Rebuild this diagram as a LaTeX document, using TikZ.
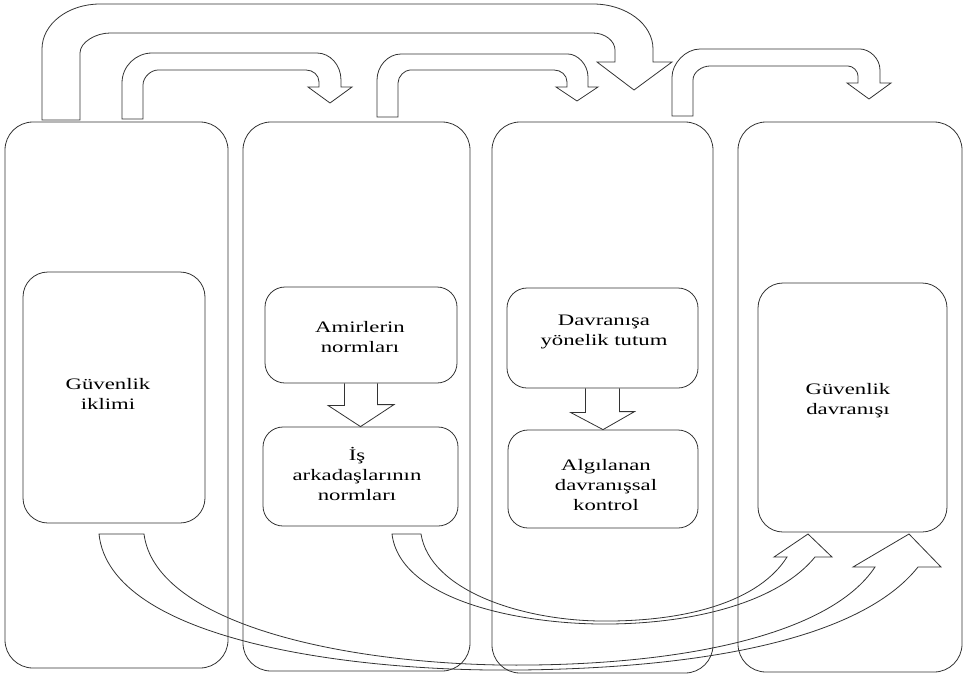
\documentclass[tikz,border=0pt]{standalone}
\usepackage{fontspec}
\setmainfont{Liberation Serif}[FakeStretch=1.42]
\usetikzlibrary{positioning}
\tikzset{
  kolon/.style={draw=black!80,line width=0.8pt,rounded corners=28pt},
  kutu/.style={draw=black!80,line width=0.8pt,rounded corners=20pt},
  blok/.style={draw=black!80,line width=0.8pt,line join=miter},
  yazi/.style={align=center,inner sep=0pt,font=\fontsize{16}{20}\selectfont},
}
\begin{document}
\begin{tikzpicture}[x=1pt,y=-1pt]
\useasboundingbox (0,0) rectangle (963,678);

% kolonlar
\node[kolon,minimum width=223pt,minimum height=546pt] (k1) at (116.5,395) {};
\node[kolon,minimum width=227pt,minimum height=549pt] (k2) at (356.5,396.5) {};
\node[kolon,minimum width=221pt,minimum height=551pt] (k3) at (602.5,397.5) {};
\node[kolon,minimum width=224pt,minimum height=550pt] (k4) at (850,397) {};

% ic kutular
\node[kutu,rounded corners=25pt,minimum width=182pt,minimum height=251pt] (gi) at (114,397.5) {};
\node[kutu,minimum width=192pt,minimum height=96pt] (am) at (361,335) {};
\node[kutu,minimum width=195pt,minimum height=99pt] (is) at (360.5,476.5) {};
\node[kutu,minimum width=191pt,minimum height=100pt] (dt) at (602.5,338) {};
\node[kutu,minimum width=190pt,minimum height=98pt] (ak) at (603,479) {};
\node[kutu,rounded corners=25pt,minimum width=189pt,minimum height=249pt] (gd) at (852.5,407.5) {};

\node[yazi] (tgi) at (108,394) {Güvenlik\\iklimi};
\node[yazi] (tam) at (360,337) {Amirlerin\\normları};
\node[yazi] (tis) at (357,474) {İş\\arkadaşlarının\\normları};
\node[yazi] (tdt) at (604,332) {Davranışa\\yönelik tutum};
\node[yazi] (tak) at (606,485) {Algılanan\\davranışsal\\kontrol};
\node[yazi] (tgd) at (848,401) {Güvenlik\\davranışı};

% kutular arasi oklar
\draw[blok] ([xshift=-16.5pt]am.south) -- ++(0,22) -- ++(-16.5,0) -- (is.north)
  -- ++(33.5,-22) -- ++(-16.5,0) -- ([xshift=16.5pt]am.south);
\draw[blok] ([xshift=-17pt]dt.south) -- ++(0,24) -- ++(-15,0) -- (ak.north)
  -- ++(31.5,-18) -- ++(-15,0) -- ([xshift=17pt]dt.south);

% ust oklar
\draw[blok] (42,120) -- (42,49) .. controls (42,24) and (68,4) .. (100,4)
  -- (593,4) .. controls (626,4) and (653,24) .. (653,49) -- (653,62) -- (672,62)
  -- (634,90) -- (597,62) -- (615,62) -- (615,50) .. controls (615,41) and (605,33) .. (593,33)
  -- (110,33) .. controls (96,33) and (80,42) .. (80,53) -- (80,120) -- cycle;
\draw[blok] (122,119) -- (122,83) .. controls (122,66) and (136,53) .. (152,53)
  -- (317,53) .. controls (330,53) and (341,65) .. (341,80) -- (341,87) -- (352,87)
  -- (330,103) -- (308,87) -- (319,87) -- (319,82) .. controls (319,75) and (313,70) .. (306,70)
  -- (158,70) .. controls (151,70) and (143,77) .. (143,85) -- (143,119) -- cycle;
\draw[blok] (377,117) -- (377,80) .. controls (377,66) and (388,54) .. (401,54)
  -- (568,54) .. controls (577,54) and (588,64) .. (588,77) -- (588,87) -- (598,87)
  -- (577,101) -- (556,87) -- (567,87) -- (567,82) .. controls (567,75) and (561,70) .. (554,70)
  -- (410,70) .. controls (405,70) and (398,76) .. (398,83) -- (398,117) -- cycle;
\draw[blok] (672,116) -- (672,77) .. controls (672,64) and (685,49) .. (700,49)
  -- (860,49) .. controls (869,49) and (880,58) .. (880,70) -- (880,83) -- (891,83)
  -- (869,99) -- (847,83) -- (858,83) -- (858,76) .. controls (858,71) and (853,66) .. (848,66)
  -- (710,66) .. controls (702,66) and (693,72) .. (693,80) -- (693,116) -- cycle;

% alt egri oklar
\draw[blok] (99,534) .. controls (110,640) and (350,672) .. (520,670)
  .. controls (700,668) and (860,640) .. (918,567) -- (941,567) -- (909,534) -- (853,567)
  -- (875,567) .. controls (830,635) and (680,667) .. (500,665)
  .. controls (330,662) and (155,620) .. (144,534) -- cycle;
\draw[blok] (392,534) .. controls (400,600) and (520,625) .. (610,624)
  .. controls (700,623) and (780,600) .. (815,557) -- (832,557) -- (808,534) -- (774,557)
  -- (787,557) .. controls (760,600) and (690,622) .. (600,621)
  .. controls (520,620) and (430,590) .. (421,534) -- cycle;
\end{tikzpicture}
\end{document}
